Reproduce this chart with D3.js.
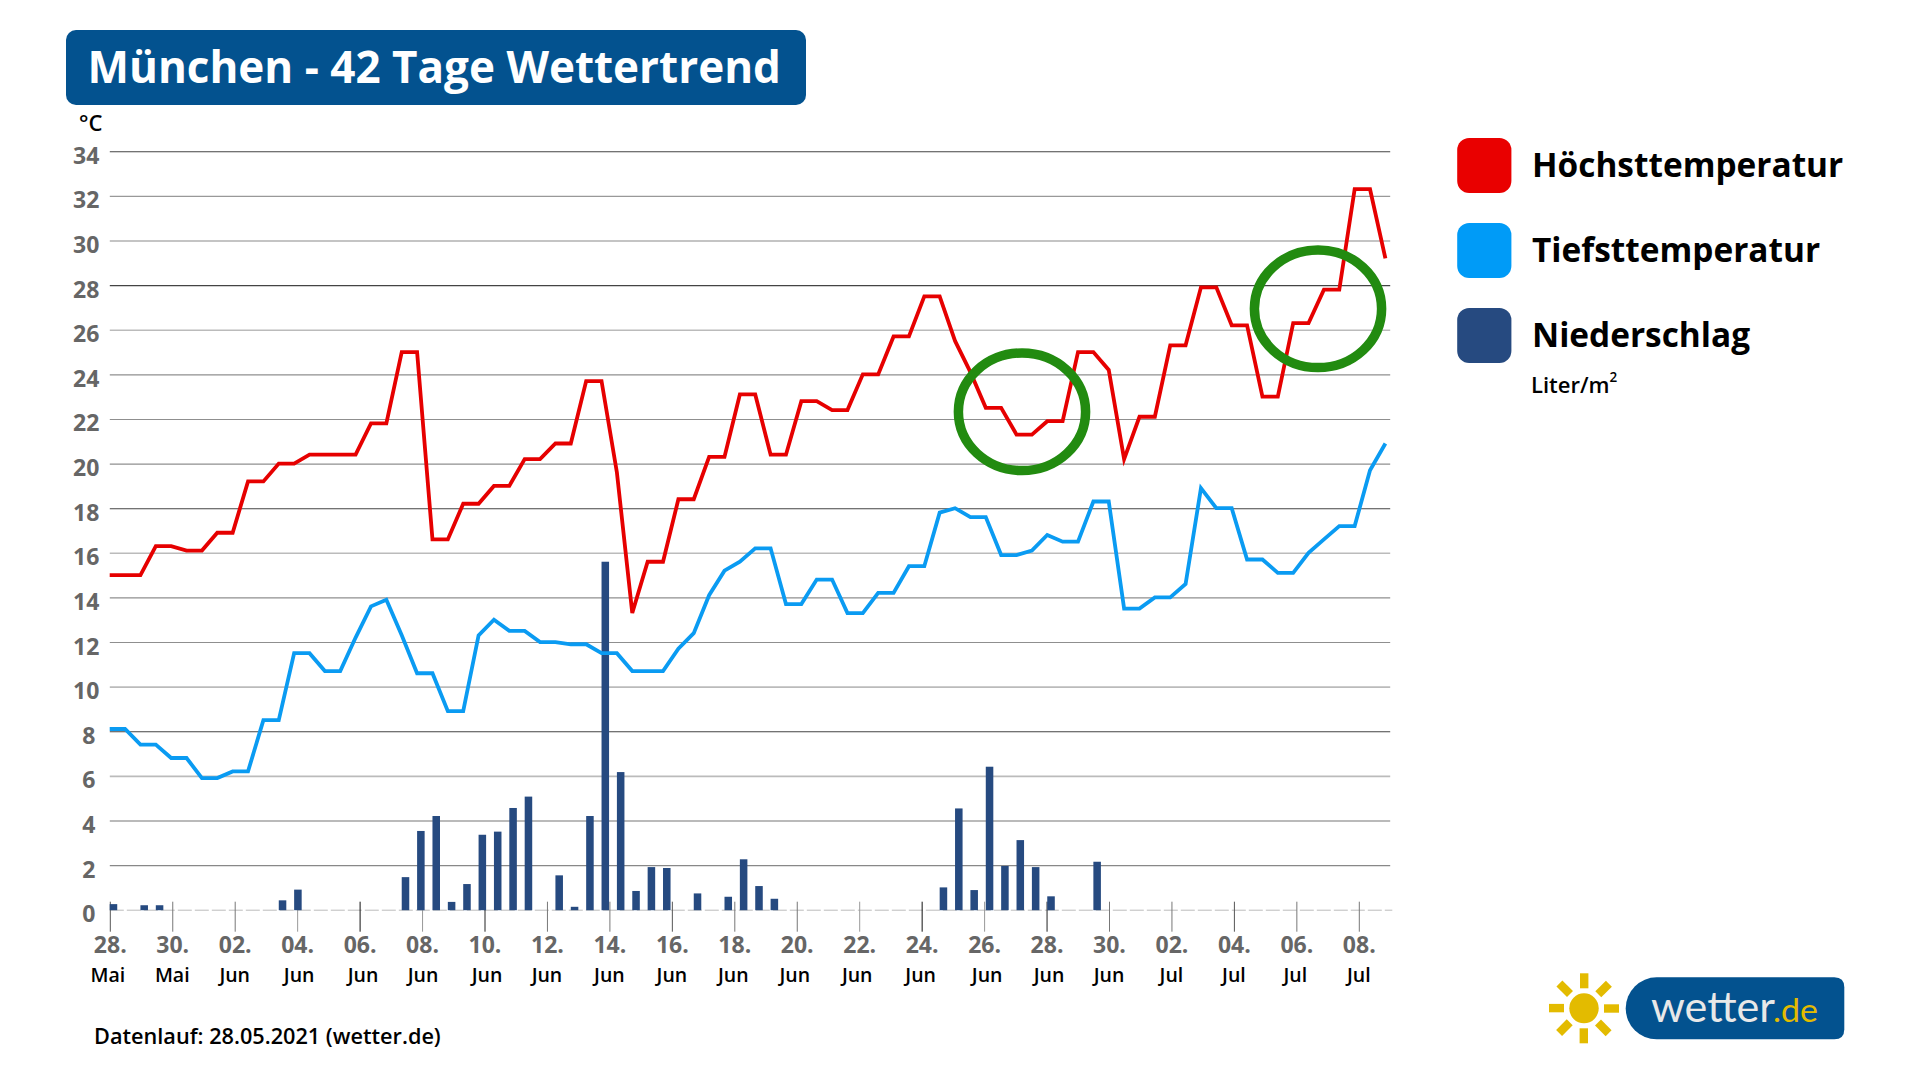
<!DOCTYPE html>
<html lang="de"><head><meta charset="utf-8"><title>München - 42 Tage Wettertrend</title>
<script src="https://cdn.jsdelivr.net/npm/d3@7/dist/d3.min.js"></script>
<style>html,body{margin:0;padding:0;background:#fff}svg{display:block}text{font-family:"Open Sans",sans-serif}</style>
</head><body><svg id="c" width="1918" height="1079"></svg>
<script>
const titleText = "München - 42 Tage Wettertrend";
const footerText = "Datenlauf: 28.05.2021 (wetter.de)";
const yTicks = [34,32,30,28,26,24,22,20,18,16,14,12,10,8,6,4,2];
const dayLabels = ["28.","30.","02.","04.","06.","08.","10.","12.","14.","16.","18.","20.","22.","24.","26.","28.","30.","02.","04.","06.","08."];
const monthLabels = ["Mai","Mai","Jun","Jun","Jun","Jun","Jun","Jun","Jun","Jun","Jun","Jun","Jun","Jun","Jun","Jun","Jun","Jul","Jul","Jul","Jul"];
const highs = [15,15,15,16.3,16.3,16.1,16.1,16.9,16.9,19.2,19.2,20,20,20.4,20.4,20.4,20.4,21.8,21.8,25,25,16.6,16.6,18.2,18.2,19,19,20.2,20.2,20.9,20.9,23.7,23.7,19.6,13.3,15.6,15.6,18.4,18.4,20.3,20.3,23.1,23.1,20.4,20.4,22.8,22.8,22.4,22.4,24,24,25.7,25.7,27.5,27.5,25.5,24.1,22.5,22.5,21.3,21.3,21.9,21.9,25,25,24.2,20.2,22.1,22.1,25.3,25.3,27.9,27.9,26.2,26.2,23,23,26.3,26.3,27.8,27.8,32.3,32.3,29.2];
const lows = [8.1,8.1,7.4,7.4,6.8,6.8,5.9,5.9,6.2,6.2,8.5,8.5,11.5,11.5,10.7,10.7,12.2,13.6,13.9,12.3,10.6,10.6,8.9,8.9,12.3,13,12.5,12.5,12,12,11.9,11.9,11.5,11.5,10.7,10.7,10.7,11.7,12.4,14.1,15.2,15.6,16.2,16.2,13.7,13.7,14.8,14.8,13.3,13.3,14.2,14.2,15.4,15.4,17.8,18,17.6,17.6,15.9,15.9,16.1,16.8,16.5,16.5,18.3,18.3,13.5,13.5,14,14,14.6,18.9,18,18,15.7,15.7,15.1,15.1,16,16.6,17.2,17.2,19.7,20.9];
const rain = [.25,0,.2,.2,0,0,0,0,0,0,0,.42,.9,0,0,0,0,0,0,1.46,3.53,4.2,.35,1.15,3.36,3.5,4.56,5.07,0,1.54,.13,4.2,15.6,6.17,.84,1.91,1.87,0,.73,0,.58,2.26,1.06,.49,0,0,0,0,0,0,0,0,0,0,1,4.54,.88,6.41,1.96,3.12,1.91,.6,0,0,2.15,0,0,0,0,0,0,0,0,0,0,0,0,0,0,0,0,0,0,0];
const legendNames = ["Höchsttemperatur","Tiefsttemperatur","Niederschlag"];

const RED="#e60000", BLUE="#0a9bf2", NAVY="#264a80", GREEN="#228b10", LOGO="#03528f", SUN="#e3bb00";
const swatch=["#e90000","#009bf7","#264a80"];
const gridColor={34:"#444",32:"#999",30:"#8a8a8a",28:"#444",26:"#bbb",24:"#8f8f8f",22:"#8f8f8f",20:"#8f8f8f",18:"#444",16:"#bbb",14:"#8f8f8f",12:"#8f8f8f",10:"#bbb",8:"#444",6:"#bbb",4:"#777",2:"#888"};
const monthNudge=[-2,0,0,2,3.4,1,2.5,0,0,0,-1,-2,-2,-1,3,2.5,0,0,0,-1,0];

const svg=d3.select("#c");
const y=d3.scaleLinear().domain([0,34]).range([909.7,151.3]);
const x=d3.scalePoint().domain(d3.range(highs.length)).range([109.7,1385.4]);
const xt=d3.scalePoint().domain(d3.range(dayLabels.length)).range([109.8,1358.8]);

// header
svg.append("rect").attr("x",66).attr("y",30).attr("width",740).attr("height",75).attr("rx",10).attr("fill",LOGO);
svg.append("text").attr("x",87.5).attr("y",83).attr("font-size",44).attr("font-weight",700).attr("fill","#fff").text(titleText);
svg.append("text").attr("x",79).attr("y",131).attr("font-size",22).attr("font-weight",600).attr("fill","#000").text("°C");

// y axis + grid
const yAxis=svg.append("g").attr("transform","translate(109.8,0)")
  .call(d3.axisLeft(y).tickValues(yTicks).tickSize(0).tickFormat(d=>d));
yAxis.select(".domain").remove();
yAxis.selectAll(".tick line").attr("x2",1280.4).attr("stroke-width",d=>gridColor[d]==="#bbb"?1.6:1.1).attr("stroke",d=>gridColor[d]);
yAxis.selectAll(".tick text").attr("x",d=>d>=10?-10.5:-14.5).attr("dy",null).attr("y",12)
  .attr("font-family",'"Open Sans",sans-serif').attr("font-size",23).attr("font-weight",700).attr("fill","#666");
const zeroL=svg.append("g").attr("transform","translate(109.8,0)")
  .call(d3.axisLeft(y).tickValues([0]).tickSize(0).tickFormat(d=>d));
zeroL.select(".domain").remove();
zeroL.select(".tick line").attr("x2",1282.5).attr("stroke","#bbb").attr("stroke-width",1).attr("stroke-dasharray","14 3");
zeroL.select(".tick text").attr("x",-14.5).attr("dy",null).attr("y",12)
  .attr("font-family",'"Open Sans",sans-serif').attr("font-size",23).attr("font-weight",700).attr("fill","#666");

// x axis
const xAxis=svg.append("g").attr("transform","translate(0,901.7)")
  .call(d3.axisBottom(xt).tickSize(30).tickFormat(i=>dayLabels[i]));
xAxis.select(".domain").remove();
xAxis.selectAll(".tick line").attr("stroke",(d,i)=>["#555","#777","#777","#999","#111","#999","#222","#777","#777"][i%9]).attr("stroke-width",1);
xAxis.selectAll(".tick text").attr("y",51.5).attr("dy",null)
  .attr("font-family",'"Open Sans",sans-serif').attr("font-size",23).attr("font-weight",700).attr("fill","#666");
svg.append("g").selectAll("text").data(monthLabels).join("text")
  .attr("x",(d,i)=>xt(i)+monthNudge[i]).attr("y",981.7).attr("text-anchor","middle")
  .attr("font-size",19.5).attr("font-weight",600).attr("fill","#000").text(d=>d);

// rain bars
const barW=x.step()*0.49;
svg.append("g").selectAll("rect").data(rain.map((v,i)=>({v,i})).filter(d=>d.v>0)).join("rect")
  .attr("x",d=>x(d.i)).attr("width",barW).attr("y",d=>y(d.v)).attr("height",d=>y(0)-y(d.v)+0.5).attr("fill",NAVY);

// lines
const line=d3.line().x((d,i)=>x(i)).y(d=>y(d));
svg.append("path").attr("d",line(highs)).attr("fill","none").attr("stroke",RED).attr("stroke-width",3.8).attr("stroke-linejoin","miter");
svg.append("path").attr("d",line(lows)).attr("fill","none").attr("stroke",BLUE).attr("stroke-width",3.8).attr("stroke-linejoin","miter");

// highlight ellipses
[[1022,411.8],[1318,308.8]].forEach(c=>svg.append("ellipse").attr("cx",c[0]).attr("cy",c[1]).attr("rx",63.6).attr("ry",58.8)
  .attr("fill","none").attr("stroke",GREEN).attr("stroke-width",9.5));

// legend
const lg=svg.append("g").selectAll("g").data(legendNames).join("g").attr("transform",(d,i)=>`translate(0,${85*i})`);
lg.append("rect").attr("x",1457.2).attr("y",138).attr("width",54.2).attr("height",55).attr("rx",12).attr("fill",(d,i)=>swatch[i]);
lg.append("text").attr("x",1532).attr("y",176.7).attr("font-size",33.4).attr("font-weight",700).attr("fill","#000").text(d=>d);
const lit=svg.append("text").attr("x",1531).attr("y",393.3).attr("font-size",22).attr("font-weight",600).attr("fill","#000");
lit.append("tspan").text("Liter/m");
lit.append("tspan").attr("font-size",13.5).attr("dy",-11).text("2");

// footer
svg.append("text").attr("x",94).attr("y",1044).attr("font-size",21.7).attr("font-weight",600).attr("fill","#000").text(footerText);

// logo
const logo=svg.append("g");
logo.append("ellipse").attr("cx",1584).attr("cy",1008.3).attr("rx",14.7).attr("ry",15).attr("fill",SUN);
d3.range(8).forEach(k=>logo.append("rect").attr("x",-4).attr("y",-35).attr("width",8.4).attr("height",15)
  .attr("fill",SUN).attr("transform",`translate(1584,1008.3) rotate(${k*45})`));
const bx=1625.7,by=977.3,bw=218.6,bh=62,r1=31,r2=10;
logo.append("path").attr("fill",LOGO).attr("d",`M${bx+r1},${by}H${bx+bw-r2}Q${bx+bw},${by} ${bx+bw},${by+r2}V${by+bh-r2}Q${bx+bw},${by+bh} ${bx+bw-r2},${by+bh}H${bx+r1}A${r1},${r1} 0 0 1 ${bx+r1},${by}Z`);
logo.append("text").attr("x",1651).attr("y",1022.3).attr("font-size",43).attr("fill","#e8e8e8").attr("textLength",124).attr("lengthAdjust","spacingAndGlyphs").style("font-family","Lato,sans-serif").text("wetter");
logo.append("text").attr("x",1773).attr("y",1022.3).attr("font-size",33).attr("fill",SUN).attr("textLength",45).attr("lengthAdjust","spacingAndGlyphs").style("font-family","Lato,sans-serif").text(".de");
</script></body></html>
